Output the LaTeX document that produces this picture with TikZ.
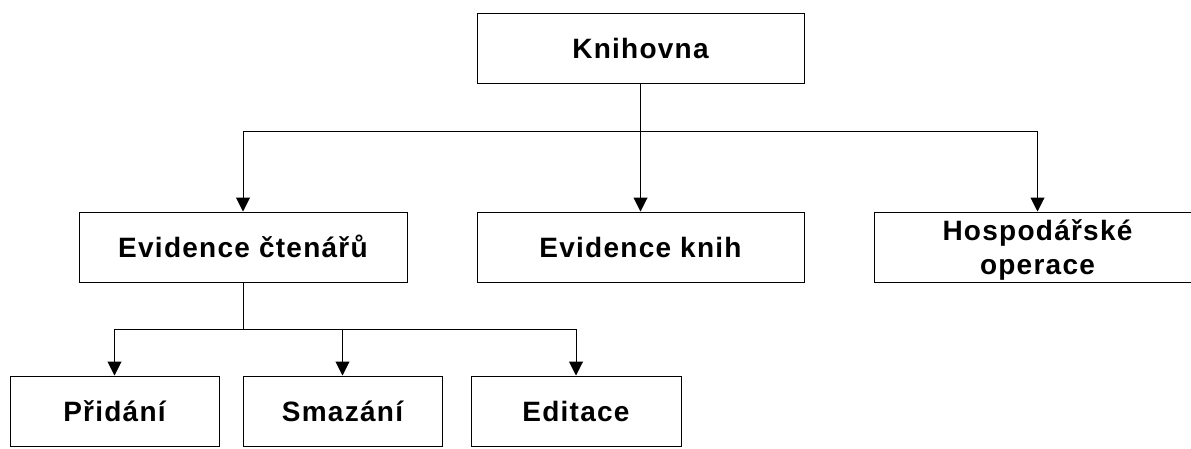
\documentclass[tikz,border=0pt]{standalone}
\usepackage{fontspec}
\setmainfont{Liberation Sans}
\newfontfamily\labelfont[LetterSpace=4.5]{Liberation Sans}
\usetikzlibrary{arrows.meta}
\tikzset{
  box/.style={draw=black, line width=1pt, rectangle, inner sep=0pt,
    minimum height=70pt, text height=20pt, text depth=0pt,
    font=\labelfont\bfseries\fontsize{28pt}{34pt}\selectfont},
  twoline/.style={box, align=center, text height=54pt, text depth=0pt},
  link/.style={draw=black, line width=1pt},
  arr/.style={link, -{Triangle[width=14pt,length=14pt]}}
}
\begin{document}
\begin{tikzpicture}[x=1pt, y=-1pt]
  \useasboundingbox (0,0) rectangle (1191,448);
  \clip (0,0) rectangle (1191,448);
  % top level
  \node[box, minimum width=327pt] (k) at (640.5,48) {Knihovna};
  % second level
  \node[box, minimum width=328pt] (ec) at (243,247) {Evidence čtenářů};
  \node[box, minimum width=327pt] (ek) at (640.5,247) {Evidence knih};
  \node[twoline, minimum width=327pt] (ho) at (1037.5,247) {Hospodářské\\operace};
  % third level
  \node[box, minimum width=209pt] (pr) at (114.5,411) {Přidání};
  \node[box, minimum width=199pt] (sm) at (342.5,411) {Smazání};
  \node[box, minimum width=210pt] (ed) at (576,411) {Editace};
  % branch points
  \coordinate (busA) at (640.5,131);
  \coordinate (busB) at (243,329);
  % connectors
  \draw[link] (k.south) -- (busA);
  \draw[arr] (busA) -| (ec.north);
  \draw[arr] (busA) -- (ek.north);
  \draw[arr] (busA) -| (ho.north);
  \draw[link] (ec.south) -- (busB);
  \draw[arr] (busB) -| (pr.north);
  \draw[arr] (busB) -| (sm.north);
  \draw[arr] (busB) -| (ed.north);
\end{tikzpicture}
\end{document}
